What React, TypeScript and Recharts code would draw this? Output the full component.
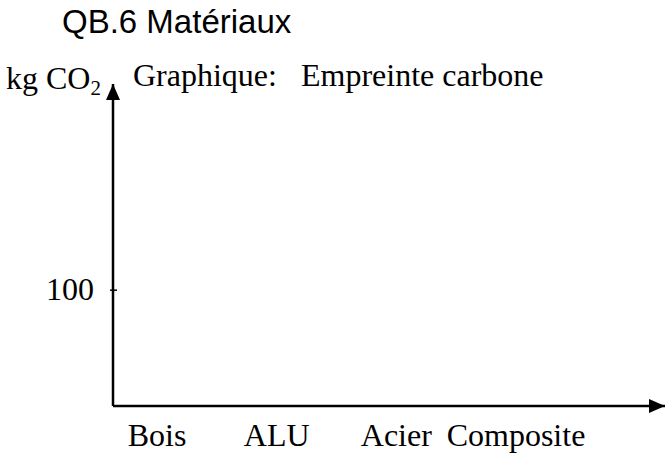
import React from 'react';
import { BarChart, Bar, XAxis, YAxis } from 'recharts';

const materials = ['Bois', 'ALU', 'Acier', 'Composite'];
// the worksheet graph is left blank for the student to fill in
const carbonValues: (number | null)[] = [null, null, null, null];
const yTicks = [100];

const data = materials.map((name, i) => ({ name, value: carbonValues[i] }));

const SERIF = '"Liberation Serif", "Times New Roman", serif';

function XTick({ x, y, payload }: any) {
  return (
    <text x={x} y={y + 40} textAnchor="middle" fontFamily={SERIF} fontSize={32} fill="#000">
      {payload.value}
    </text>
  );
}

function YTick({ x, y, payload }: any) {
  return (
    <g>
      <line x1={x - 3} x2={x + 4} y1={y} y2={y} stroke="#000" strokeWidth={1.5} />
      <text x={x - 19} y={y + 10} textAnchor="end" fontFamily={SERIF} fontSize={32} fill="#000">
        {payload.value}
      </text>
    </g>
  );
}

function YUnit({ viewBox }: any) {
  const { x, y } = viewBox;
  return (
    <text x={x - 7} y={y + 5} fontFamily={SERIF} fontSize={32} fill="#000">
      kg CO
      <tspan fontSize={21} dy={6}>2</tspan>
    </text>
  );
}

export default function App() {
  return (
    <div style={{ position: 'fixed', left: 0, top: 0, width: 668, height: 455, background: '#fff' }}>
      <svg width={0} height={0} style={{ position: 'absolute' }}>
        <defs>
          <marker
            id="arrowHead"
            markerWidth={16}
            markerHeight={14}
            refX={16}
            refY={7}
            orient="auto-start-reverse"
            markerUnits="userSpaceOnUse"
          >
            <path d="M0,0 L16,7 L0,14 z" fill="#000" />
          </marker>
        </defs>
      </svg>
      <div
        style={{
          position: 'absolute',
          left: 62,
          top: 1,
          fontFamily: '"Liberation Sans", Arial, sans-serif',
          fontSize: 33,
          lineHeight: '42px',
          color: '#000',
        }}
      >
        QB.6 Matériaux
      </div>
      <div
        style={{
          position: 'absolute',
          left: 133,
          top: 56,
          fontFamily: SERIF,
          fontSize: 32,
          lineHeight: '38px',
          whiteSpace: 'pre',
          color: '#000',
        }}
      >
        {'Graphique:   Empreinte carbone'}
      </div>
      <BarChart
        width={668}
        height={455}
        data={data}
        margin={{ top: 84, right: 3, bottom: 0, left: 13 }}
        style={{ position: 'absolute', left: 0, top: 0 }}
      >
        <XAxis
          dataKey="name"
          scale="point"
          height={49}
          padding={{ left: 44, right: 149 }}
          axisLine={{ stroke: '#000', strokeWidth: 2.5, markerEnd: 'url(#arrowHead)' }}
          tickLine={false}
          tickSize={0}
          tickMargin={0}
          tick={<XTick />}
          interval={0}
        />
        <YAxis
          type="number"
          width={100}
          domain={[0, 278]}
          allowDataOverflow
          ticks={yTicks}
          interval={0}
          axisLine={{ stroke: '#000', strokeWidth: 2.5, markerStart: 'url(#arrowHead)' }}
          tickLine={false}
          tickSize={0}
          tickMargin={0}
          tick={<YTick />}
          label={{ content: <YUnit /> }}
        />
        <Bar dataKey="value" fill="#000" isAnimationActive={false} />
      </BarChart>
    </div>
  );
}
